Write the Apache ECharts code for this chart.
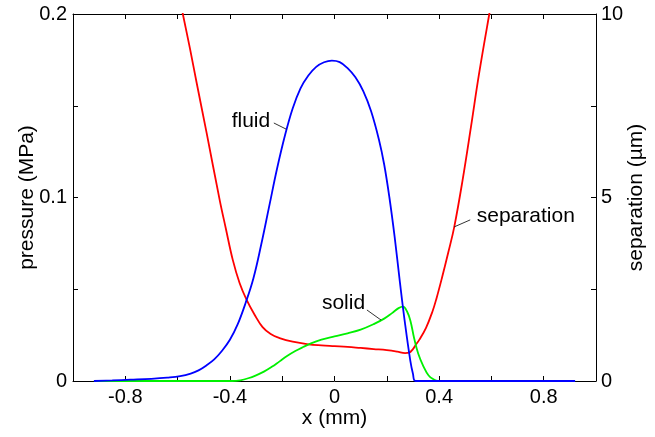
<!DOCTYPE html>
<html>
<head>
<meta charset="utf-8">
<script src="https://cdn.jsdelivr.net/npm/echarts@6/dist/echarts.min.js"></script>
<style>
html,body{margin:0;padding:0;background:#fff;}
#c{width:655px;height:437px;}
</style>
</head>
<body>
<div id="c"></div>
<script>
// ---- data (x in mm) ----
const fluidX = [-0.92,-0.85,-0.78,-0.70,-0.64,-0.59,-0.55,-0.52,-0.49,-0.46,-0.43,-0.40,-0.37,-0.34,-0.31,-0.28,-0.25,-0.22,-0.19,-0.16,-0.13,-0.10,-0.07,-0.04,-0.01,0.02,0.05,0.08,0.11,0.14,0.17,0.19,0.21,0.23,0.25,0.27,0.29,0.30,0.31,0.5,0.7,0.92];
const fluidP = [0,0.0003,0.0007,0.0012,0.0018,0.0026,0.0040,0.0058,0.0085,0.0118,0.0165,0.0225,0.031,0.0425,0.056,0.0745,0.095,0.1155,0.1335,0.1485,0.1595,0.1665,0.1712,0.1737,0.1746,0.1738,0.1705,0.1655,0.158,0.147,0.1315,0.118,0.100,0.0785,0.054,0.031,0.011,0.004,0,0,0,0];

const solidX = [-0.92,-0.6,-0.39,-0.36,-0.33,-0.30,-0.27,-0.24,-0.21,-0.18,-0.15,-0.12,-0.09,-0.05,0,0.05,0.10,0.15,0.19,0.22,0.245,0.262,0.277,0.29,0.305,0.32,0.34,0.36,0.38,0.395,0.6,0.92];
const solidP = [0,0,0,0.0004,0.0015,0.0031,0.0051,0.0077,0.0107,0.0137,0.0163,0.0185,0.0205,0.0225,0.0243,0.026,0.028,0.031,0.034,0.037,0.0397,0.0405,0.038,0.033,0.023,0.015,0.008,0.003,0.0008,0,0,0];

const sepX = [-0.60,-0.58,-0.553,-0.527,-0.489,-0.439,-0.416,-0.389,-0.363,-0.336,-0.305,-0.275,-0.244,-0.21,-0.16,-0.10,-0.05,0,0.05,0.10,0.15,0.20,0.24,0.27,0.285,0.30,0.312,0.324,0.35,0.374,0.39,0.412,0.435,0.458,0.49,0.522,0.553,0.592,0.61];
const sepS = [10.7,10.0,9.07,8.12,6.76,4.93,4.17,3.30,2.67,2.21,1.80,1.47,1.28,1.17,1.07,1.0,0.97,0.95,0.93,0.9,0.87,0.84,0.8,0.76,0.77,0.87,1.0,1.12,1.45,1.88,2.25,2.84,3.5,4.2,5.48,6.93,8.38,10.0,10.7];

const xTicks = [-0.8,-0.4,0,0.4,0.8];
const pTicks = [0,0.1,0.2];
const sTicks = [0,5,10];

const zip = (xs, ys) => xs.map((x, i) => [x, ys[i]]);
const near = (v, list) => list.some(t => Math.abs(v - t) < 1e-6);
const fmt = v => (Math.abs(v) < 1e-9 ? '0' : String(+v.toFixed(2)));

const FONT = 'Liberation Sans, Arial, Helvetica, sans-serif';
const FS = 20;
const NFS = 21;

const chart = echarts.init(document.getElementById('c'), null, {renderer: 'canvas'});

const axLine = {show: true, onZero: false, lineStyle: {color: '#000', width: 1}};
const tickIn = {show: true, inside: true, length: 5, lineStyle: {color: '#000', width: 1}};

chart.setOption({
  backgroundColor: '#fff',
  animation: false,
  grid: {left: 73, right: 59, top: 14, bottom: 56, containLabel: false},
  xAxis: [
    {
      type: 'value', min: -1, max: 1, interval: 0.2, position: 'bottom',
      axisLine: axLine, axisTick: tickIn, splitLine: {show: false},
      axisLabel: {color: '#000', fontFamily: FONT, fontSize: FS, margin: 6,
        formatter: v => near(v, xTicks) ? fmt(v) : ''},
      name: 'x (mm)', nameLocation: 'middle', nameGap: 27, nameMoveOverlap: false,
      nameTextStyle: {color: '#000', fontFamily: FONT, fontSize: NFS}
    },
    {
      type: 'value', min: -1, max: 1, interval: 0.2, position: 'top',
      axisLine: axLine, axisTick: tickIn, splitLine: {show: false},
      axisLabel: {show: false}
    }
  ],
  yAxis: [
    {
      type: 'value', min: 0, max: 0.2, interval: 0.05, position: 'left',
      axisLine: axLine, axisTick: tickIn, splitLine: {show: false},
      axisLabel: {color: '#000', fontFamily: FONT, fontSize: FS, margin: 6,
        formatter: v => near(v, pTicks) ? fmt(v) : ''},
      name: 'pressure (MPa)', nameLocation: 'middle', nameGap: 35, nameMoveOverlap: false,
      nameTextStyle: {color: '#000', fontFamily: FONT, fontSize: NFS}
    },
    {
      type: 'value', min: 0, max: 10, interval: 2.5, position: 'right',
      axisLine: axLine, axisTick: tickIn, splitLine: {show: false},
      axisLabel: {color: '#000', fontFamily: FONT, fontSize: FS, margin: 5,
        formatter: v => near(v, sTicks) ? fmt(v) : ''},
      name: 'separation (\u00b5m)', nameLocation: 'middle', nameGap: 30, nameMoveOverlap: false,
      nameTextStyle: {color: '#000', fontFamily: FONT, fontSize: NFS}
    }
  ],
  series: [
    {
      name: 'separation', type: 'line', xAxisIndex: 0, yAxisIndex: 1,
      data: zip(sepX, sepS), showSymbol: false, smooth: 0.4, clip: true,
      lineStyle: {color: '#ff0000', width: 1.8}, z: 3
    },
    {
      name: 'solid', type: 'line', xAxisIndex: 0, yAxisIndex: 0,
      data: zip(solidX, solidP), showSymbol: false, smooth: 0.4, clip: true,
      lineStyle: {color: '#00f000', width: 1.8}, z: 4
    },
    {
      name: 'fluid', type: 'line', xAxisIndex: 0, yAxisIndex: 0,
      data: zip(fluidX, fluidP), showSymbol: false, smooth: 0.4, clip: true,
      lineStyle: {color: '#0000ff', width: 1.8}, z: 5
    }
  ]
});

// annotations placed in data coordinates
function px(x, y, yAxisIndex) {
  return chart.convertToPixel({xAxisIndex: 0, yAxisIndex: yAxisIndex}, [x, y]);
}
const notes = [
  {text: 'fluid', ax: 0, t: [-0.246, 0.1417], align: 'right', l0: [-0.232, 0.1406], l1: [-0.184, 0.1372]},
  {text: 'solid', ax: 0, t: [0.117, 0.0425], align: 'right', l0: [0.124, 0.0387], l1: [0.178, 0.0332]},
  {text: 'separation', ax: 1, t: [0.544, 4.5], align: 'left', l0: [0.519, 4.39], l1: [0.458, 4.2]}
];
const graphic = [];
notes.forEach(n => {
  const tp = px(n.t[0], n.t[1], n.ax);
  const a = px(n.l0[0], n.l0[1], n.ax);
  const b = px(n.l1[0], n.l1[1], n.ax);
  graphic.push({
    type: 'text', x: tp[0], y: tp[1], z: 10,
    style: {text: n.text, fill: '#000', font: NFS + 'px ' + FONT,
      textAlign: n.align, textVerticalAlign: 'middle'}
  });
  graphic.push({
    type: 'line', z: 10,
    shape: {x1: a[0], y1: a[1], x2: b[0], y2: b[1]},
    style: {stroke: '#000', lineWidth: 0.8}
  });
});
chart.setOption({graphic: graphic});
</script>
</body>
</html>
